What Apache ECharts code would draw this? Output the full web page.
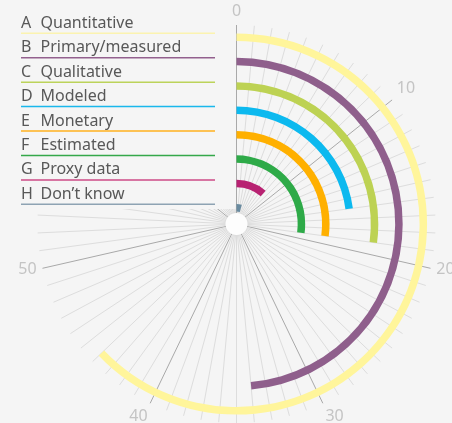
<!DOCTYPE html>
<html>
<head>
<meta charset="utf-8">
<script src="https://cdn.jsdelivr.net/npm/echarts@6/dist/echarts.min.js"></script>
<style>
  html, body { margin: 0; padding: 0; background: #f5f5f5; }
  #chart { width: 452px; height: 423px; }
</style>
</head>
<body>
<div id="chart"></div>
<script>
  // categories outer -> inner
  var letters = ['A', 'B', 'C', 'D', 'E', 'F', 'G', 'H'];
  var categories = ['Quantitative', 'Primary/measured', 'Qualitative', 'Modeled', 'Monetary', 'Estimated', 'Proxy data', 'Don\u2019t know'];
  var values = [44, 34, 19, 16, 19, 19, 8, 3];
  var barColors = ['#fff59b', '#8f5f8c', '#bdd253', '#0cb9ef', '#ffb000', '#2eaa48', '#b82272', '#6a8ba0'];
  var lineColors = ['#fbf3b0', '#93608e', '#bcd35a', '#1ab8ec', '#ffb01e', '#34a84a', '#cc4a86', '#8ea3b3'];
  var angleMax = 70;

  var bg = '#f5f5f5';
  var cx = 236.5, cy = 224;

  var chart = echarts.init(document.getElementById('chart'));

  // legend drawn by hand: letter, name and a coloured rule under it
  // the rect hides the spokes behind the legend (top-left quarter)
  var legend = [{
    type: 'rect', z: 100,
    shape: { x: 0, y: 22, width: 235.5, height: 187 },
    style: { fill: bg }
  }];
  categories.forEach(function (name, i) {
    var ly = 33.3 + 24.43 * i;
    legend.push({
      type: 'text', z: 101, x: 21, y: ly - 10,
      style: { text: letters[i], fill: '#585858', font: '16px "Noto Sans"', verticalAlign: 'middle' }
    });
    legend.push({
      type: 'text', z: 101, x: 40.5, y: ly - 10,
      style: { text: name, fill: '#585858', font: '16px "Noto Sans"', verticalAlign: 'middle' }
    });
    legend.push({
      type: 'line', z: 101,
      shape: { x1: 21, y1: ly, x2: 215, y2: ly },
      style: { stroke: lineColors[i], lineWidth: 1.5 }
    });
  });
  legend.push({
    type: 'circle', z: 100,
    shape: { cx: cx, cy: cy, r: 11 },
    style: { fill: '#fdfdfd' }
  });

  var splitColors = ['#a9a9a9'];
  for (var k = 1; k < 10; k++) splitColors.push('#dddddd');

  chart.setOption({
    backgroundColor: bg,
    animation: false,
    polar: { center: [cx, cy], radius: [4, 199] },
    angleAxis: {
      type: 'value',
      min: 0,
      max: angleMax,
      interval: 1,
      startAngle: 90,
      clockwise: true,
      axisLine: { show: false },
      axisTick: { show: false },
      splitLine: { show: true, lineStyle: { color: splitColors, width: 1 } },
      axisLabel: {
        margin: 6,
        color: '#c4c4c4',
        fontSize: 16,
        fontFamily: 'Noto Sans',
        formatter: function (v) { return (v % 10 === 0 && v < angleMax) ? String(v) : ''; }
      }
    },
    radiusAxis: {
      type: 'category',
      data: categories,
      inverse: true,
      axisLine: { show: false },
      axisTick: { show: false },
      axisLabel: { show: false },
      splitLine: { show: false }
    },
    series: [{
      type: 'bar',
      coordinateSystem: 'polar',
      barWidth: 7.5,
      data: values.map(function (v, i) {
        return { value: v, itemStyle: { color: barColors[i] } };
      })
    }],
    graphic: legend
  });
</script>
</body>
</html>
